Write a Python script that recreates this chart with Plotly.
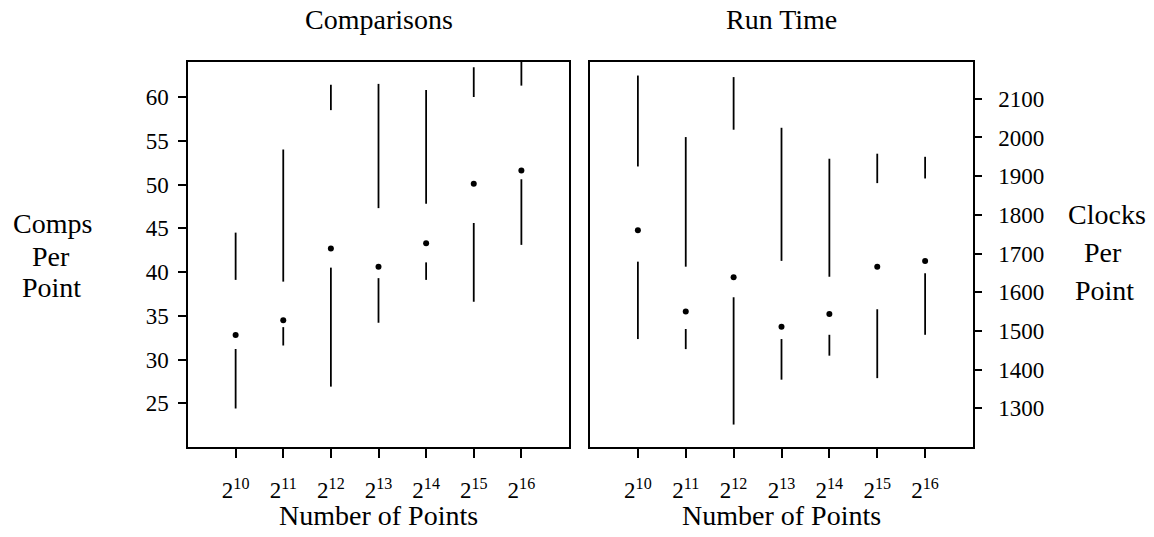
import plotly.graph_objects as go

# ---- data ----
exponents = [10, 11, 12, 13, 14, 15, 16]
tick_labels = ["2<sup>%d</sup>" % e for e in exponents]

comp_min = [24.4, 31.6, 26.9, 34.2, 39.1, 36.6, 43.1]
comp_q1 = [31.2, 33.7, 40.5, 39.3, 41.1, 45.6, 50.6]
comp_med = [32.8, 34.5, 42.7, 40.6, 43.3, 50.1, 51.6]
comp_q3 = [39.1, 38.9, 58.5, 47.3, 47.8, 60.0, 61.3]
comp_max = [44.5, 54.0, 61.4, 61.5, 60.8, 63.4, 64.5]

run_min = [1479, 1453, 1258, 1374, 1436, 1378, 1490]
run_q1 = [1679, 1505, 1587, 1479, 1490, 1556, 1649]
run_med = [1760, 1550, 1639, 1511, 1544, 1666, 1681]
run_q3 = [1925, 1666, 2020, 1681, 1640, 1882, 1894]
run_max = [2160, 2001, 2156, 2025, 1945, 1958, 1950]

comp_ticks = [25, 30, 35, 40, 45, 50, 55, 60]
run_ticks = [1300, 1400, 1500, 1600, 1700, 1800, 1900, 2000, 2100]

# page body has an 8px margin; figure sized to fit inside the window
OFF = 8
W, H = 1146, 521
FONT = "Liberation Serif"


def px(x):
    return (x - OFF) / W


def py(y):
    return 1 - (y - OFF) / H


def segments(xs, lo, q1, q3, hi):
    sx, sy = [], []
    for x, a, b, c, d in zip(xs, lo, q1, q3, hi):
        sx += [x, x, None, x, x, None]
        sy += [a, b, None, c, d, None]
    return sx, sy


fig = go.Figure()

sx, sy = segments(exponents, comp_min, comp_q1, comp_q3, comp_max)
fig.add_trace(go.Scatter(x=sx, y=sy, mode="lines", line=dict(color="black", width=1.8),
                         xaxis="x", yaxis="y", showlegend=False, hoverinfo="skip"))
fig.add_trace(go.Scatter(x=exponents, y=comp_med, mode="markers",
                         marker=dict(color="black", size=6), xaxis="x", yaxis="y", showlegend=False))

sx, sy = segments(exponents, run_min, run_q1, run_q3, run_max)
fig.add_trace(go.Scatter(x=sx, y=sy, mode="lines", line=dict(color="black", width=1.8),
                         xaxis="x2", yaxis="y2", showlegend=False, hoverinfo="skip"))
fig.add_trace(go.Scatter(x=exponents, y=run_med, mode="markers",
                         marker=dict(color="black", size=6), xaxis="x2", yaxis="y2", showlegend=False))

tickfont = dict(family=FONT, size=23, color="black")
common_x = dict(range=[9, 17], tickvals=exponents, ticktext=tick_labels, ticks="outside",
                ticklen=9, tickwidth=1.5, tickcolor="black", showline=True, linecolor="black",
                linewidth=1.5, mirror=True, showgrid=False, zeroline=False, tickfont=tickfont,
                ticklabelstandoff=13)

fig.update_layout(
    width=W, height=H, margin=dict(l=0, r=0, t=0, b=0),
    paper_bgcolor="white", plot_bgcolor="white",
    xaxis=dict(domain=[px(188), px(569)], anchor="y", **common_x),
    xaxis2=dict(domain=[px(590), px(973)], anchor="y2", **common_x),
    yaxis=dict(domain=[py(447), py(62)], range=[20, 64], tickvals=comp_ticks, ticks="outside",
               ticklen=8, tickwidth=1.5, tickcolor="black", showline=True, linecolor="black",
               linewidth=1.5, mirror=True, showgrid=False, zeroline=False, tickfont=tickfont,
               anchor="x", ticklabelstandoff=5),
    yaxis2=dict(domain=[py(447), py(62)], range=[1200, 2195], tickvals=run_ticks, ticks="outside",
                ticklen=7, tickwidth=1.5, tickcolor="black", showline=True, linecolor="black",
                linewidth=1.5, mirror=True, showgrid=False, zeroline=False, tickfont=tickfont,
                anchor="x2", side="right", ticklabelstandoff=12),
)

textfont = dict(family=FONT, size=28, color="black")
annotations = [
    ("Comparisons", 378.5, 20),
    ("Run Time", 781.5, 20),
    ("Number of Points", 378.5, 515),
    ("Number of Points", 781.5, 515),
    ("Comps", 52, 223),
    ("Per", 51, 256),
    ("Point", 51, 287),
    ("Clocks", 1107, 214),
    ("Per", 1103, 252),
    ("Point", 1104, 290),
]
for text, x, y in annotations:
    fig.add_annotation(text=text, x=px(x), y=py(y), xref="paper", yref="paper",
                       xanchor="center", yanchor="middle", showarrow=False, font=textfont)

fig.write_html("out.html")
